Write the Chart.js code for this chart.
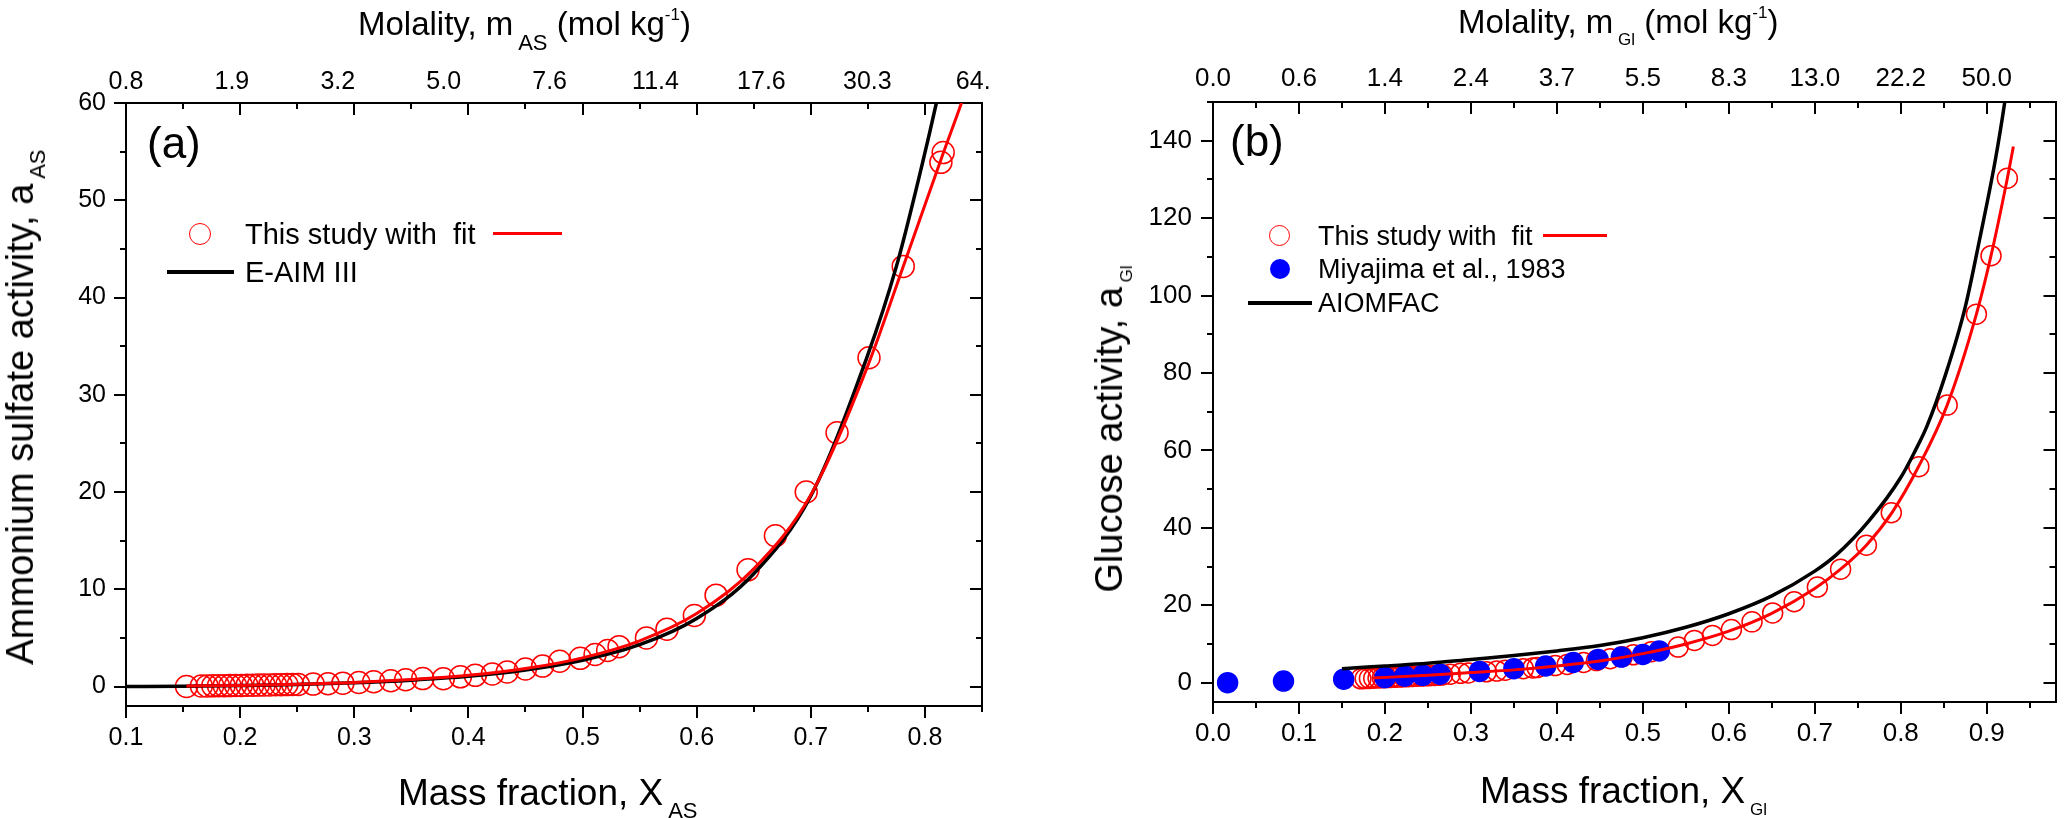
<!DOCTYPE html>
<html lang="en">
<head>
<meta charset="UTF-8">
<title>Activity vs mass fraction</title>
<script src="https://cdn.jsdelivr.net/npm/chart.js"></script>
<style>
  body { margin: 0; background: #fff; font-family: "Liberation Sans", Arial, sans-serif; color: #000; }
  #page { position: relative; width: 2067px; height: 818px; overflow: hidden; background: #fff; }
  .wrap { position: absolute; top: 0; }
  .txt { position: absolute; white-space: nowrap; line-height: 1; }
  .sub, .sup { position: relative; }
  .vert { position: absolute; white-space: nowrap; line-height: 1; transform: translate(-50%, -50%) rotate(-90deg); }
  .circ { position: absolute; border-radius: 50%; box-sizing: border-box; }
  .seg { position: absolute; }
</style>
</head>
<body>
<div id="page">
  <div class="wrap" style="left:0"><canvas id="chartA" width="1040" height="818"></canvas></div>
  <div class="wrap" style="left:1040px"><canvas id="chartB" width="1027" height="818"></canvas></div>

  <!-- panel (a) texts -->
  <div class="txt" style="left:358px; top:7px; font-size:33px">Molality, m<span class="sub" style="font-size:22px; top:15px"> AS</span> (mol kg<span class="sup" style="font-size:17px; top:-15px">-1</span>)</div>
  <div class="txt" style="left:398px; top:774px; font-size:37px">Mass fraction, X<span class="sub" style="font-size:22px; top:13px"> AS</span></div>
  <div class="vert" style="left:20px; top:407px; font-size:38px">Ammonium sulfate activity, a<span class="sub" style="font-size:22px; top:12px"> AS</span></div>
  <div class="txt" style="left:147px; top:121px; font-size:44px">(a)</div>

  <div class="circ" style="left:189px; top:223px; width:22px; height:22px; border:1.5px solid #ff0000"></div>
  <div class="txt" style="left:245px; top:220px; font-size:29px">This study with&nbsp; fit</div>
  <div class="seg" style="left:493px; top:232px; width:69px; height:3px; background:#ff0000"></div>
  <div class="seg" style="left:167px; top:270px; width:67px; height:4px; background:#000"></div>
  <div class="txt" style="left:245px; top:258px; font-size:29px">E-AIM III</div>

  <!-- panel (b) texts -->
  <div class="txt" style="left:1458px; top:5px; font-size:33px">Molality, m<span class="sub" style="font-size:17px; top:12px"> Gl</span> (mol kg<span class="sup" style="font-size:17px; top:-15px">-1</span>)</div>
  <div class="txt" style="left:1480px; top:772px; font-size:37px">Mass fraction, X<span class="sub" style="font-size:17px; top:12px"> Gl</span></div>
  <div class="vert" style="left:1109px; top:429px; font-size:38px">Glucose activity, a<span class="sub" style="font-size:17px; top:10px"> Gl</span></div>
  <div class="txt" style="left:1230px; top:119px; font-size:44px">(b)</div>

  <div class="circ" style="left:1269px; top:225px; width:21px; height:21px; border:1.5px solid #ff0000"></div>
  <div class="txt" style="left:1318px; top:223px; font-size:27px">This study with&nbsp; fit</div>
  <div class="seg" style="left:1543px; top:234px; width:64px; height:3px; background:#ff0000"></div>
  <div class="circ" style="left:1270px; top:259px; width:20px; height:20px; background:#0000ff"></div>
  <div class="txt" style="left:1318px; top:256px; font-size:27px">Miyajima et al., 1983</div>
  <div class="seg" style="left:1248px; top:301px; width:64px; height:4px; background:#000"></div>
  <div class="txt" style="left:1318px; top:290px; font-size:27px">AIOMFAC</div>
</div>

<script>
  var FONT = '"Liberation Sans", Arial, sans-serif';

  // (a) ammonium sulfate - measured points
  var xAS_meas = [0.153, 0.166, 0.171, 0.176, 0.181, 0.186, 0.191, 0.196, 0.201, 0.206, 0.211, 0.216, 0.221, 0.226,
    0.231, 0.236, 0.241, 0.246, 0.251, 0.264, 0.277, 0.290, 0.304, 0.317, 0.332, 0.345, 0.360, 0.378, 0.393, 0.406,
    0.421, 0.434, 0.450, 0.465, 0.480, 0.498, 0.511, 0.522, 0.532, 0.556, 0.574, 0.598, 0.617, 0.645, 0.669, 0.696,
    0.723, 0.751, 0.781, 0.814, 0.816];
  var yAS_meas = [0.00, 0.05, 0.06, 0.07, 0.08, 0.09, 0.10, 0.11, 0.12, 0.13, 0.14, 0.15, 0.16, 0.17,
    0.18, 0.19, 0.20, 0.21, 0.22, 0.25, 0.30, 0.35, 0.42, 0.50, 0.60, 0.70, 0.82, 0.80, 1.00, 1.15,
    1.30, 1.50, 1.80, 2.10, 2.60, 2.90, 3.30, 3.70, 4.10, 5.00, 5.90, 7.30, 9.40, 12.0, 15.5, 20.0,
    26.1, 33.8, 43.2, 53.9, 54.9];
  // (a) fit of this study
  var xAS_fit = [0.153, 0.20, 0.25, 0.30, 0.35, 0.40, 0.45, 0.50, 0.55, 0.60, 0.65, 0.70, 0.75, 0.781, 0.815, 0.832, 0.845];
  var yAS_fit = [0.05, 0.12, 0.24, 0.42, 0.72, 1.15, 1.85, 2.95, 4.7, 7.5, 12.1, 19.7, 33.0, 43.2, 54.5, 60.0, 64.5];
  // (a) E-AIM III
  var xAS_eaim = [0.10, 0.15, 0.20, 0.25, 0.30, 0.35, 0.40, 0.45, 0.50, 0.55, 0.60, 0.65, 0.70, 0.749, 0.775, 0.798, 0.810, 0.820];
  var yAS_eaim = [0.0, 0.03, 0.10, 0.20, 0.38, 0.65, 1.05, 1.70, 2.70, 4.30, 7.00, 11.6, 19.6, 33.8, 43.2, 53.9, 60.0, 65.5];
  var topLabelsA = ['0.8', '1.9', '3.2', '5.0', '7.6', '11.4', '17.6', '30.3', '64.'];

  // (b) glucose - measured points
  var xGl_meas = [0.172, 0.177, 0.182, 0.187, 0.192, 0.197, 0.202, 0.207, 0.212, 0.217, 0.222, 0.227, 0.232, 0.237,
    0.242, 0.247, 0.252, 0.257, 0.262, 0.267, 0.276, 0.288, 0.297, 0.318, 0.330, 0.340, 0.361, 0.372, 0.377, 0.398,
    0.412, 0.431, 0.446, 0.462, 0.476, 0.489, 0.510, 0.541, 0.560, 0.581, 0.603, 0.627, 0.651, 0.676, 0.703, 0.730,
    0.760, 0.789, 0.821, 0.854, 0.888, 0.905, 0.924];
  var yGl_meas = [1.0, 1.05, 1.1, 1.15, 1.2, 1.25, 1.3, 1.35, 1.4, 1.45, 1.5, 1.55, 1.6, 1.65,
    1.7, 1.75, 1.8, 1.85, 1.9, 2.0, 2.2, 2.4, 2.5, 2.8, 3.0, 3.2, 3.6, 3.8, 3.9, 4.4,
    4.7, 5.2, 5.7, 6.2, 6.7, 7.2, 8.0, 9.2, 10.9, 12.2, 13.7, 15.7, 18.0, 20.9, 24.7, 29.3,
    35.5, 43.9, 55.8, 71.7, 95.2, 110.3, 130.3];
  // (b) Miyajima et al., 1983
  var xGl_lit = [0.017, 0.082, 0.152, 0.200, 0.223, 0.244, 0.264, 0.310, 0.350, 0.387, 0.419, 0.448, 0.475, 0.500, 0.519];
  var yGl_lit = [0.0, 0.4, 0.9, 1.3, 1.7, 1.9, 2.2, 2.9, 3.6, 4.3, 5.2, 6.0, 6.6, 7.3, 8.2];
  // (b) fit of this study
  var xGl_fit = [0.185, 0.25, 0.30, 0.35, 0.40, 0.45, 0.50, 0.55, 0.60, 0.65, 0.70, 0.73, 0.76, 0.79, 0.82, 0.854, 0.888, 0.905, 0.924, 0.931];
  var yGl_fit = [1.2, 1.9, 2.6, 3.3, 4.3, 5.6, 7.5, 10.0, 13.3, 17.9, 24.3, 29.3, 35.5, 44.0, 55.5, 71.7, 95.2, 110.3, 130.3, 138.5];
  // (b) AIOMFAC
  var xGl_aiom = [0.15, 0.20, 0.25, 0.30, 0.35, 0.40, 0.45, 0.50, 0.55, 0.60, 0.65, 0.70, 0.725, 0.763, 0.80, 0.817, 0.83, 0.852, 0.875, 0.892, 0.910, 0.921, 0.926];
  var yGl_aiom = [3.6, 4.3, 5.0, 6.0, 7.0, 8.2, 9.6, 11.6, 14.3, 17.8, 22.4, 28.8, 33.0, 41.8, 53.0, 60.0, 66.0, 79.5, 97.0, 114.8, 135.0, 150.0, 158.0];
  var topLabelsB = ['0.0', '0.6', '1.4', '2.4', '3.7', '5.5', '8.3', '13.0', '22.2', '50.0'];

  function pts(xs, ys) {
    return xs.map(function (x, i) { return { x: x, y: ys[i] }; });
  }

  function curve(xs, ys, color, width) {
    return {
      data: pts(xs, ys), showLine: true, pointRadius: 0, borderColor: color, borderWidth: width,
      cubicInterpolationMode: 'monotone', fill: false
    };
  }

  function markers(xs, ys, radius, stroke, fillColor) {
    return {
      data: pts(xs, ys), showLine: false, pointStyle: 'circle', pointRadius: radius,
      borderColor: stroke, backgroundColor: fillColor, borderWidth: 1.5
    };
  }

  // frame with outward ticks bottom/left, inward ticks top/right, minor ticks via zero-size axes
  function frameScales(p) {
    var tickFont = { family: FONT, size: p.fontSize };
    var frame = { display: true, color: '#000', width: 2 };
    function marks(len) { return { drawOnChartArea: false, color: '#000', lineWidth: 2, tickLength: len }; }
    function setH(h) { return function (s) { s.height = h; }; }
    function setW(w) { return function (s) { s.width = w; }; }
    function bare(pos, weight, min, max, step, len, size) {
      var horiz = pos === 'top' || pos === 'bottom';
      return {
        type: 'linear', position: pos, weight: weight, min: min, max: max,
        ticks: { stepSize: step, includeBounds: false, display: false },
        grid: marks(len), border: { display: false },
        afterFit: horiz ? setH(size) : setW(size)
      };
    }
    var sc = {
      x: {
        type: 'linear', position: 'bottom', weight: 0, min: p.xMin, max: p.xMax,
        ticks: {
          stepSize: 0.1, includeBounds: false, autoSkip: false, maxRotation: 0, minRotation: 0,
          font: tickFont, color: '#000', padding: p.bottomPad,
          callback: function (v) { return v.toFixed(1); }
        },
        grid: marks(12), border: frame, afterFit: setH(p.bottomH)
      },
      xMinor: bare('bottom', -10, p.xMin, p.xMax, 0.05, 6, 0),
      xTop: {
        type: 'linear', position: 'top', weight: 10, min: p.xMin, max: p.topMax,
        ticks: {
          stepSize: 0.1, includeBounds: false, autoSkip: false, maxRotation: 0, minRotation: 0,
          font: tickFont, color: '#000', padding: p.topPad,
          callback: function (v, i) { return p.topLabels[i]; }
        },
        grid: { drawOnChartArea: false, drawTicks: false }, border: frame, afterFit: setH(p.topH)
      },
      xTopMajor: bare('top', -10, p.xMin, p.xMax, 0.1, -12, 0),
      xTopMinor: bare('top', -10, p.xMin, p.xMax, 0.05, -6, 0),
      y: {
        type: 'linear', position: 'left', weight: 0, min: p.yMin, max: p.yMax,
        ticks: {
          stepSize: p.yStep, includeBounds: false, autoSkip: false,
          font: tickFont, color: '#000', padding: p.leftPad,
          callback: function (v) { return String(v); }
        },
        grid: marks(12), border: frame, afterFit: setW(p.leftW)
      },
      yMinor: bare('left', -10, p.yMin, p.yMax, p.yMinorStep, 6, 0),
      yRight: {
        type: 'linear', position: 'right', weight: 0, min: p.yMin, max: p.yMax,
        ticks: { stepSize: p.yStep, includeBounds: false, display: false },
        grid: marks(-12), border: frame, afterFit: setW(0)
      },
      yRightMinor: bare('right', -10, p.yMin, p.yMax, p.yMinorStep, -6, 0)
    };
    return sc;
  }

  function baseOptions(scales, rightPad) {
    return {
      responsive: false,
      maintainAspectRatio: false,
      animation: false,
      events: [],
      layout: { padding: { left: 0, top: 0, right: rightPad, bottom: 0 } },
      plugins: { legend: { display: false }, tooltip: { enabled: false } },
      scales: scales
    };
  }

  var chartA = new Chart(document.getElementById('chartA'), {
    type: 'scatter',
    data: {
      datasets: [
        curve(xAS_fit, yAS_fit, '#ff0000', 3),
        curve(xAS_eaim, yAS_eaim, '#000000', 3.5),
        markers(xAS_meas, yAS_meas, 11, '#ff0000', 'rgba(0,0,0,0)')
      ]
    },
    options: baseOptions(frameScales({
      xMin: 0.1, xMax: 0.85, topMax: 0.9083, topLabels: topLabelsA,
      yMin: -2, yMax: 60, yStep: 10, yMinorStep: 5,
      fontSize: 25, leftW: 126, topH: 103, bottomH: 112,
      leftPad: 8, topPad: 6, bottomPad: 5
    }), 58)
  });

  var chartB = new Chart(document.getElementById('chartB'), {
    type: 'scatter',
    data: {
      datasets: [
        curve(xGl_fit, yGl_fit, '#ff0000', 3),
        curve(xGl_aiom, yGl_aiom, '#000000', 3.5),
        markers(xGl_lit, yGl_lit, 10, '#0000ff', '#0000ff'),
        markers(xGl_meas, yGl_meas, 10, '#ff0000', 'rgba(0,0,0,0)')
      ]
    },
    options: baseOptions(frameScales({
      xMin: 0, xMax: 0.98, topMax: 0.98, topLabels: topLabelsB,
      yMin: -5, yMax: 150, yStep: 20, yMinorStep: 10,
      fontSize: 26, leftW: 173, topH: 102, bottomH: 116,
      leftPad: 9, topPad: 8, bottomPad: 4
    }), 5)
  });
</script>
</body>
</html>
